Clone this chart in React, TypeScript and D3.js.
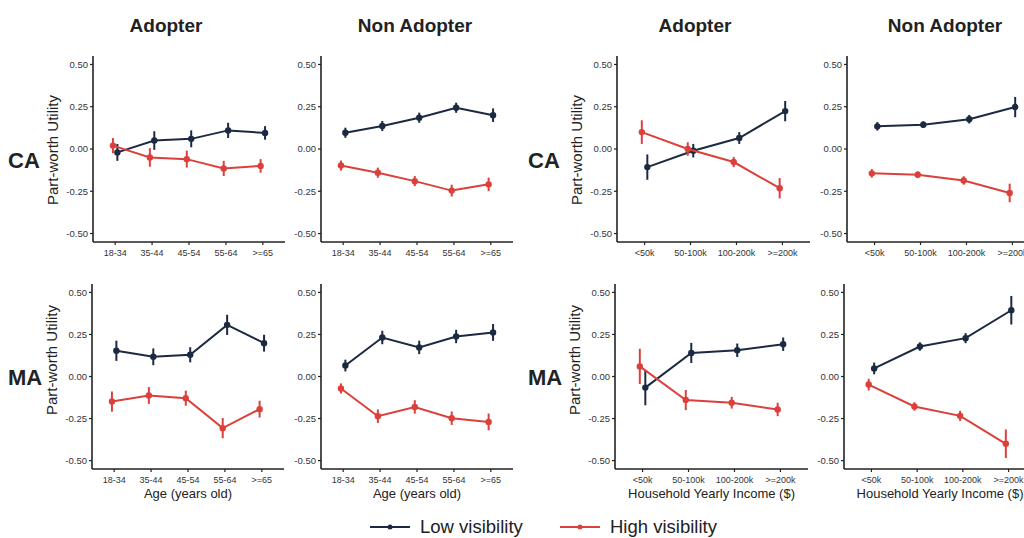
import React from "react";
import { scaleLinear, scalePoint, line } from "d3";

// categories and ticks
const ageCats = ["18-34", "35-44", "45-54", "55-64", ">=65"];
const incomeCats = ["<50k", "50-100k", "100-200k", ">=200k"];
const yTicks = [0.5, 0.25, 0, -0.25, -0.5];
const yTickLabels = ["0.50", "0.25", "0.00", "-0.25", "-0.50"];
const colTitles = ["Adopter", "Non Adopter", "Adopter", "Non Adopter"];
const rowTitles = ["CA", "MA"];
const seriesNames = ["Low visibility", "High visibility"];

// CA, adopter, age
const caAdoptAgeLow = [-0.02, 0.05, 0.06, 0.11, 0.095];
const caAdoptAgeLowErr = [0.05, 0.055, 0.05, 0.045, 0.04];
const caAdoptAgeHigh = [0.02, -0.05, -0.06, -0.115, -0.1];
const caAdoptAgeHighErr = [0.045, 0.055, 0.05, 0.045, 0.04];
// CA, non adopter, age
const caNonAgeLow = [0.096, 0.136, 0.185, 0.244, 0.2];
const caNonAgeLowErr = [0.03, 0.03, 0.03, 0.03, 0.04];
const caNonAgeHigh = [-0.098, -0.14, -0.19, -0.246, -0.209];
const caNonAgeHighErr = [0.03, 0.03, 0.03, 0.035, 0.04];
// CA, adopter, income
const caAdoptIncLow = [-0.107, -0.01, 0.065, 0.224];
const caAdoptIncLowErr = [0.075, 0.04, 0.035, 0.06];
const caAdoptIncHigh = [0.1, 0.0, -0.077, -0.232];
const caAdoptIncHighErr = [0.07, 0.04, 0.03, 0.06];
// CA, non adopter, income
const caNonIncLow = [0.134, 0.144, 0.176, 0.248];
const caNonIncLowErr = [0.025, 0.02, 0.025, 0.06];
const caNonIncHigh = [-0.144, -0.152, -0.186, -0.26];
const caNonIncHighErr = [0.025, 0.02, 0.025, 0.055];
// MA, adopter, age
const maAdoptAgeLow = [0.153, 0.117, 0.129, 0.307, 0.198];
const maAdoptAgeLowErr = [0.06, 0.05, 0.045, 0.06, 0.05];
const maAdoptAgeHigh = [-0.149, -0.113, -0.129, -0.307, -0.194];
const maAdoptAgeHighErr = [0.06, 0.05, 0.045, 0.06, 0.05];
// MA, non adopter, age
const maNonAgeLow = [0.065, 0.232, 0.173, 0.238, 0.262];
const maNonAgeLowErr = [0.035, 0.04, 0.04, 0.04, 0.05];
const maNonAgeHigh = [-0.071, -0.236, -0.181, -0.248, -0.27];
const maNonAgeHighErr = [0.03, 0.04, 0.04, 0.04, 0.05];
// MA, adopter, income
const maAdoptIncLow = [-0.066, 0.14, 0.156, 0.192];
const maAdoptIncLowErr = [0.105, 0.06, 0.04, 0.04];
const maAdoptIncHigh = [0.06, -0.14, -0.156, -0.196];
const maAdoptIncHighErr = [0.105, 0.06, 0.035, 0.04];
// MA, non adopter, income
const maNonIncLow = [0.048, 0.178, 0.228, 0.394];
const maNonIncLowErr = [0.035, 0.025, 0.03, 0.085];
const maNonIncHigh = [-0.048, -0.178, -0.234, -0.4];
const maNonIncHighErr = [0.035, 0.025, 0.03, 0.085];

const LOW = "#1b2a40";
const HIGH = "#dc403b";
const FONT = "'Liberation Sans', Arial, Helvetica, sans-serif";

const panels = [
  { row: 0, cats: ageCats, x: [93, 285], low: caAdoptAgeLow, lowErr: caAdoptAgeLowErr, high: caAdoptAgeHigh, highErr: caAdoptAgeHighErr, ytitle: true, xtitle: "" },
  { row: 0, cats: ageCats, x: [321, 513], low: caNonAgeLow, lowErr: caNonAgeLowErr, high: caNonAgeHigh, highErr: caNonAgeHighErr, ytitle: false, xtitle: "" },
  { row: 0, cats: incomeCats, x: [617, 810], low: caAdoptIncLow, lowErr: caAdoptIncLowErr, high: caAdoptIncHigh, highErr: caAdoptIncHighErr, ytitle: true, xtitle: "" },
  { row: 0, cats: incomeCats, x: [847, 1040], low: caNonIncLow, lowErr: caNonIncLowErr, high: caNonIncHigh, highErr: caNonIncHighErr, ytitle: false, xtitle: "" },
  { row: 1, cats: ageCats, x: [92, 284], low: maAdoptAgeLow, lowErr: maAdoptAgeLowErr, high: maAdoptAgeHigh, highErr: maAdoptAgeHighErr, ytitle: true, xtitle: "Age (years old)" },
  { row: 1, cats: ageCats, x: [321, 513], low: maNonAgeLow, lowErr: maNonAgeLowErr, high: maNonAgeHigh, highErr: maNonAgeHighErr, ytitle: false, xtitle: "Age (years old)" },
  { row: 1, cats: incomeCats, x: [615, 808], low: maAdoptIncLow, lowErr: maAdoptIncLowErr, high: maAdoptIncHigh, highErr: maAdoptIncHighErr, ytitle: true, xtitle: "Household Yearly Income ($)" },
  { row: 1, cats: incomeCats, x: [844, 1036], low: maNonIncLow, lowErr: maNonIncLowErr, high: maNonIncHigh, highErr: maNonIncHighErr, ytitle: false, xtitle: "Household Yearly Income ($)" },
];

const rowY = [
  [242, 56],
  [469, 284],
];

function Panel({ p }: { p: any }) {
  const y = scaleLinear().domain([-0.55, 0.55]).range(rowY[p.row]);
  const x = scalePoint<string>().domain(p.cats).range(p.x).padding(0.6);
  const step = x.step();
  const bottom = rowY[p.row][0];
  const top = rowY[p.row][1];
  const series = [
    { vals: p.low, err: p.lowErr, color: LOW, dx: step * 0.06 },
    { vals: p.high, err: p.highErr, color: HIGH, dx: -step * 0.06 },
  ];
  const path = line<number>()
    .x((_, i) => (x(p.cats[i]) as number))
    .y((d) => y(d));
  return (
    <g>
      {/* axes */}
      <line x1={p.x[0]} x2={p.x[0]} y1={bottom} y2={top} stroke="#222" strokeWidth={1.6} />
      <line x1={p.x[0]} x2={p.x[1]} y1={bottom} y2={bottom} stroke="#222" strokeWidth={1.6} />
      {yTicks.map((t, i) => (
        <g key={t}>
          <line x1={p.x[0] - 3} x2={p.x[0]} y1={y(t)} y2={y(t)} stroke="#222" strokeWidth={1.2} />
          <text x={p.x[0] - 5} y={y(t)} dy="0.35em" textAnchor="end" fontSize={9.5} fill="#333" fontFamily={FONT}>
            {yTickLabels[i]}
          </text>
        </g>
      ))}
      {p.cats.map((c: string) => (
        <g key={c}>
          <line x1={x(c)} x2={x(c)} y1={bottom} y2={bottom + 3} stroke="#222" strokeWidth={1.2} />
          <text x={x(c)} y={bottom + 11} dy="0.35em" textAnchor="middle" fontSize={9} fill="#333" fontFamily={FONT}>
            {c}
          </text>
        </g>
      ))}
      {p.xtitle && (
        <text x={(p.x[0] + p.x[1]) / 2} y={bottom + 24} dy="0.35em" textAnchor="middle" fontSize={13} fill="#222" fontFamily={FONT}>
          {p.xtitle}
        </text>
      )}
      {p.ytitle && (
        <text
          transform={`translate(${p.x[0] - 40},${p.row === 0 ? 150 : 360}) rotate(-90)`}
          textAnchor="middle"
          dy="0.35em"
          fontSize={15}
          fill="#222"
          fontFamily={FONT}
        >
          Part-worth Utility
        </text>
      )}
      {/* series */}
      {series.map((s, si) => (
        <g key={si} transform={`translate(${s.dx},0)`}>
          <path d={path(s.vals) as string} fill="none" stroke={s.color} strokeWidth={2} />
          {s.vals.map((v: number, i: number) => (
            <g key={i}>
              <line
                x1={x(p.cats[i])}
                x2={x(p.cats[i])}
                y1={y(v - s.err[i])}
                y2={y(v + s.err[i])}
                stroke={s.color}
                strokeWidth={2}
              />
              <circle cx={x(p.cats[i])} cy={y(v)} r={3.2} fill={s.color} />
            </g>
          ))}
        </g>
      ))}
    </g>
  );
}

export default function App() {
  const colCenters = [166, 415, 695, 945];
  return (
    <svg
      width={1024}
      height={538}
      style={{ position: "absolute", left: 0, top: 0, background: "#fff" }}
    >
      {colTitles.map((t, i) => (
        <text key={i} x={colCenters[i]} y={25} dy="0.35em" textAnchor="middle" fontSize={19} fontWeight="bold" fill="#222" fontFamily={FONT}>
          {t}
        </text>
      ))}
      {rowTitles.map((t, i) => (
        <g key={t}>
          <text x={8} y={i === 0 ? 160 : 377} dy="0.35em" fontSize={22} fontWeight="bold" fill="#222" fontFamily={FONT}>
            {t}
          </text>
          <text x={528} y={i === 0 ? 160 : 377} dy="0.35em" fontSize={22} fontWeight="bold" fill="#222" fontFamily={FONT}>
            {t}
          </text>
        </g>
      ))}
      {panels.map((p, i) => (
        <Panel key={i} p={p} />
      ))}
      {/* legend */}
      {seriesNames.map((n, i) => {
        const lx = i === 0 ? 370 : 560;
        const c = i === 0 ? LOW : HIGH;
        return (
          <g key={n}>
            <line x1={lx} x2={lx + 40} y1={527} y2={527} stroke={c} strokeWidth={2} />
            <circle cx={lx + 20} cy={527} r={2.5} fill={c} />
            <text x={lx + 50} y={527} dy="0.35em" fontSize={18.5} fill="#222" fontFamily={FONT}>
              {n}
            </text>
          </g>
        );
      })}
    </svg>
  );
}
